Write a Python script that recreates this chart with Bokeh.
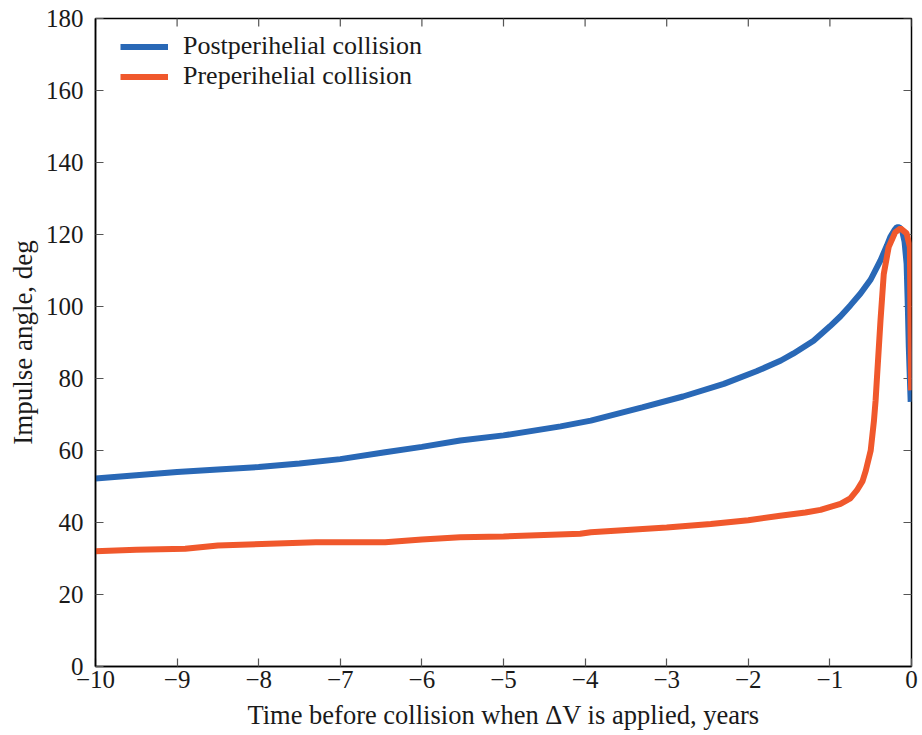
import math
from bokeh.plotting import figure
from bokeh.models import Legend, LegendItem, Range1d, FixedTicker, CustomJSTickFormatter
from bokeh.embed import file_html
from bokeh.resources import INLINE

# ---- data ----
post_t = [-10, -9.5, -9, -8.5, -8, -7.5, -7, -6.45, -6, -5.53, -5, -4.3, -3.93,
          -3.3, -2.8, -2.3, -1.9, -1.6, -1.45, -1.2, -1.0, -0.87, -0.75, -0.625,
          -0.5, -0.38, -0.3, -0.26, -0.21, -0.18, -0.15, -0.115, -0.085, -0.06,
          -0.045, -0.033, -0.02, -0.01]
post_deg = [52.2, 53.1, 54.0, 54.7, 55.4, 56.4, 57.6, 59.5, 61.0, 62.8, 64.2,
            66.7, 68.3, 72.0, 75.0, 78.5, 82.0, 85.0, 86.9, 90.5, 94.5, 97.3,
            100.3, 103.6, 107.5, 112.8, 117.0, 119.3, 121.2, 122.0, 122.0,
            121.1, 118.0, 111.9, 100.0, 88.7, 80.0, 73.5]

pre_t = [-10, -9.5, -8.9, -8.5, -7.3, -6.45, -6, -5.53, -5, -4.06, -3.93, -3,
         -2.46, -2, -1.61, -1.3, -1.115, -0.87, -0.75, -0.67, -0.6, -0.56, -0.5,
         -0.46, -0.44, -0.42, -0.38, -0.34, -0.28, -0.2, -0.135, -0.06, -0.02,
         -0.012, -0.005]
pre_deg = [32.0, 32.4, 32.7, 33.6, 34.5, 34.5, 35.3, 35.9, 36.1, 36.9, 37.3,
           38.6, 39.6, 40.6, 41.9, 42.8, 43.5, 45.2, 46.7, 48.9, 51.5, 54.4, 60.0,
           68.3, 73.9, 81.4, 96.1, 109.0, 116.5, 120.6, 121.7, 120.3, 116.5,
           95.0, 76.7]

x_ticks = [-10, -9, -8, -7, -6, -5, -4, -3, -2, -1, 0]
y_ticks = [0, 20, 40, 60, 80, 100, 120, 140, 160, 180]

labels = ["Postperihelial collision", "Preperihelial collision"]
colors = ["#2968b6", "#f0582c"]

FONT = "Liberation Serif"
X_MIN, X_MAX, Y_MIN, Y_MAX = -10, 0, 0, 180

p = figure(width=922, height=735, output_backend="svg", toolbar_location=None,
           x_range=Range1d(X_MIN, X_MAX), y_range=Range1d(Y_MIN, Y_MAX),
           min_border_left=95, min_border_right=11, min_border_top=18,
           min_border_bottom=69)
p.grid.visible = False
p.outline_line_color = "black"
p.outline_line_width = 1.5
p.background_fill_color = "white"
p.border_fill_color = "white"

fmt = CustomJSTickFormatter(code="return String(tick).replace('-', '\u2212');")

for ax in (p.xaxis[0], p.yaxis[0]):
    ax.axis_line_color = "black"
    ax.axis_line_width = 1.5
    ax.major_tick_in = 8
    ax.major_tick_out = 0
    ax.minor_tick_line_color = None
    ax.major_tick_line_color = "#555555"
    ax.major_tick_line_width = 1.2
    ax.major_label_text_font = FONT
    ax.major_label_text_font_size = "25px"
    ax.major_label_text_color = "#1a1a1a"
    ax.axis_label_text_font = FONT
    ax.axis_label_text_font_style = "normal"
    ax.axis_label_text_color = "#1a1a1a"
    ax.formatter = fmt

p.xaxis[0].ticker = FixedTicker(ticks=x_ticks)
p.yaxis[0].ticker = FixedTicker(ticks=y_ticks)
p.xaxis[0].axis_label = "Time before collision when \u0394V is applied, years"
p.yaxis[0].axis_label = "Impulse angle, deg"
p.xaxis[0].axis_label_text_font_size = "26.5px"
p.yaxis[0].axis_label_text_font_size = "27px"
p.xaxis[0].major_label_standoff = 4
p.xaxis[0].axis_label_standoff = 9
p.yaxis[0].major_label_standoff = 12
p.yaxis[0].axis_label_standoff = 5

# mirrored inward ticks on the top and right frame edges (clipped to the frame)
p.scatter(x=x_ticks, y=[Y_MAX] * len(x_ticks), marker="dash", size=16,
          angle=math.pi / 2, line_color="#555555", line_width=1.2)
p.scatter(x=[X_MAX] * len(y_ticks), y=y_ticks, marker="dash", size=16,
          line_color="#555555", line_width=1.2)

r1 = p.line(post_t, post_deg, line_color=colors[0], line_width=6)
r2 = p.line(pre_t, pre_deg, line_color=colors[1], line_width=6)

legend = Legend(items=[LegendItem(label=labels[0], renderers=[r1]),
                       LegendItem(label=labels[1], renderers=[r2])],
                location=(25, 575), padding=0, margin=0, spacing=0,
                glyph_width=48, glyph_height=29, label_height=29,
                label_standoff=15, label_text_font=FONT,
                label_text_font_size="26px", label_text_color="#1a1a1a",
                border_line_color=None, background_fill_alpha=0)
p.add_layout(legend, "center")

open("out.html", "w").write(file_html(p, INLINE))
